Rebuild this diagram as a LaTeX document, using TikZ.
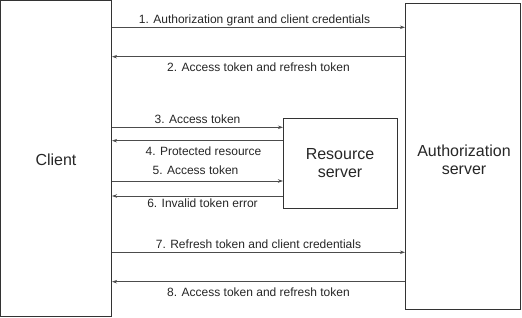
\documentclass[tikz,border=0pt]{standalone}
\usepackage{fontspec}
\setmainfont{Liberation Sans}
\usetikzlibrary{arrows.meta}
\begin{document}
\begin{tikzpicture}[x=1pt,y=-1pt,
  box/.style={draw=black!80,line width=0.9pt,inner sep=0pt},
  msg/.style={draw=black!70,line width=0.8pt,-{Stealth[length=5pt,width=3.5pt]}},
  lbl/.style={font=\fontsize{12}{14}\selectfont,text=black!85,inner sep=0pt,anchor=base},
  big/.style={font=\fontsize{16}{19}\selectfont,text=black!85,align=center}]
\useasboundingbox (0,0) rectangle (522,318);
\draw[box] (0.5,0.5) rectangle (111.5,316);
\node[big] (client) at (56,160) {Client};
\draw[box] (405,3) rectangle (520.5,309);
\node[big] (auth) at (464,160) {Authorization\\[-1pt]server};
\draw[box] (283,118) rectangle (397,208);
\node[big] (res) at (340,163) {Resource\\[-1pt]server};
% arrows
\coordinate (c1) at (112,27.3); \coordinate (a1) at (405,27.3);
\draw[msg] (c1) -- (a1) node[lbl,midway,yshift=4pt,xshift=-4pt] {1. Authorization grant and client credentials};
\coordinate (c2) at (112,56.7); \coordinate (a2) at (405,56.7);
\draw[msg] (a2) -- (c2) node[lbl,midway,yshift=-15pt] {2. Access token and refresh token};
\coordinate (c3) at (112,127.3); \coordinate (r3) at (283,127.3);
\draw[msg] (c3) -- (r3) node[lbl,midway,yshift=4pt] {3. Access token};
\coordinate (c4) at (112,140.7); \coordinate (r4) at (283,140.7);
\draw[msg] (r4) -- (c4) node[lbl,midway,yshift=-15pt,xshift=6pt] {4. Protected resource};
\coordinate (c5) at (112,181); \coordinate (r5) at (283,181);
\draw[msg] (c5) -- (r5) node[lbl,midway,yshift=6pt,xshift=-2pt] {5. Access token};
\coordinate (c6) at (112,196); \coordinate (r6) at (283,196);
\draw[msg] (r6) -- (c6) node[lbl,midway,yshift=-11pt,xshift=5pt] {6. Invalid token error};
\coordinate (c7) at (112,252.3); \coordinate (a7) at (405,252.3);
\draw[msg] (c7) -- (a7) node[lbl,midway,yshift=4pt] {7. Refresh token and client credentials};
\coordinate (c8) at (112,281.7); \coordinate (a8) at (405,281.7);
\draw[msg] (a8) -- (c8) node[lbl,midway,yshift=-15pt] {8. Access token and refresh token};
\end{tikzpicture}
\end{document}
